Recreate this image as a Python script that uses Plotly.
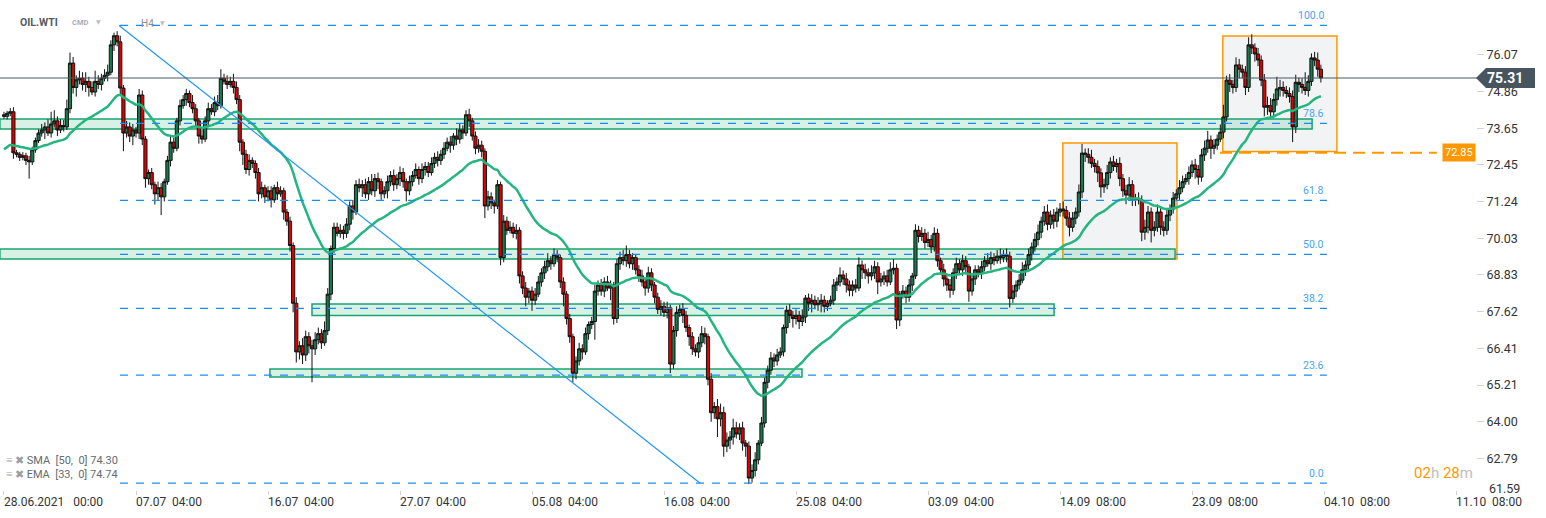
import plotly.graph_objects as go

# ---------------- data ----------------
first_open = 74.10
closes = [
    74.05, 74.15, 74.2, 72.85, 72.8, 72.7, 72.75, 72.6, 72.55, 72.95,
    73.25, 73.5, 73.6, 73.7, 73.5, 73.8, 73.9, 73.6, 73.75, 73.7,
    74.3, 75.8, 75.0, 75.25, 75.3, 75.1, 75.2, 75.0, 74.85, 75.2,
    75.1, 75.3, 75.4, 75.5, 76.4, 76.7, 76.5, 74.98, 73.5, 73.7,
    73.4, 73.6, 73.5, 74.75, 73.3, 72.0, 72.2, 71.8, 71.5, 71.7,
    71.4, 71.9, 72.6, 73.2, 73.0, 73.9, 74.4, 74.6, 74.8, 74.5,
    74.3, 73.9, 73.4, 73.3, 73.9, 74.3, 74.2, 74.5, 74.4, 75.3,
    75.2, 75.1, 75.2, 75.0, 74.6, 73.2, 72.8, 72.3, 72.6, 72.5,
    72.2, 71.5, 71.7, 71.4, 71.6, 71.3, 71.7, 71.5, 71.6, 70.9,
    70.6, 69.8, 67.9, 66.3, 66.5, 66.2, 66.8, 66.5, 66.4, 66.7,
    66.9, 66.6, 67.0, 68.2, 69.7, 70.4, 70.2, 70.3, 70.2, 70.5,
    71.1, 70.9, 71.8, 71.7, 71.8, 71.5, 71.9, 71.6, 72.0, 71.9,
    71.5, 71.6, 71.9, 72.1, 71.8, 72.0, 72.2, 71.9, 71.6, 71.9,
    72.1, 72.3, 72.0, 72.3, 72.4, 72.2, 72.5, 72.7, 72.6, 72.8,
    73.0, 73.2, 73.1, 73.4, 73.3, 73.6, 73.5, 74.1, 73.9, 73.4,
    73.0, 73.1, 72.9, 71.1, 71.4, 71.2, 71.1, 71.8, 69.4, 70.6,
    70.3, 70.4, 70.2, 70.3, 68.8, 68.4, 68.1, 68.3, 68.0, 68.2,
    68.6, 68.9, 69.1, 69.3, 69.2, 69.5, 69.4, 68.6, 68.2, 67.4,
    66.8, 65.6, 66.0, 66.4, 66.3, 66.9, 67.2, 67.3, 68.3, 68.5,
    68.3, 68.6, 68.4, 68.5, 67.4, 69.2, 69.4, 69.3, 69.5, 69.2,
    69.4, 69.0, 68.8, 68.6, 68.4, 68.9, 68.5, 68.1, 67.7, 67.8,
    67.6, 67.75, 65.9, 67.0, 67.6, 67.7, 67.5, 67.1, 66.8, 66.4,
    66.3, 66.6, 66.9, 66.8, 65.4, 64.3, 64.5, 64.1, 64.3, 63.2,
    63.4, 63.5, 63.8, 63.6, 63.8, 63.3, 63.2, 62.15, 62.4, 62.75,
    63.3, 63.96, 65.3, 65.7, 66.1, 66.0, 66.2, 66.3, 67.1, 67.67,
    67.5, 67.4, 67.5, 67.3, 67.45, 68.07, 67.9, 68.0, 67.85, 67.9,
    68.0, 67.8, 67.9, 68.0, 68.5, 68.6, 68.83, 68.7, 68.5, 68.33,
    68.5, 68.4, 69.16, 69.0, 68.9, 68.8, 68.9, 69.1, 68.6, 68.7,
    68.8, 68.6, 69.0, 69.05, 67.35, 68.2, 68.3, 68.1, 68.5, 68.8,
    70.3, 70.1, 70.2, 69.9, 70.0, 69.75, 70.2, 69.3, 69.0, 68.7,
    68.5, 68.33, 68.9, 69.2, 69.0, 69.3, 69.1, 68.3, 68.7, 69.0,
    68.9, 69.1, 69.3, 69.2, 69.4, 69.3, 69.45, 69.4, 69.5, 69.45,
    68.06, 68.3, 68.5, 68.66, 69.0, 69.16, 69.5, 69.75, 70.0, 70.24,
    70.6, 70.9, 70.5, 70.8, 70.6, 70.9, 71.0, 70.95, 70.7, 70.4,
    70.7, 70.9, 71.56, 72.84, 72.8, 72.7, 72.5, 72.4, 72.19, 71.73,
    71.8, 72.2, 72.55, 72.4, 72.5, 72.0, 71.6, 71.46, 71.8, 71.3,
    71.35, 71.3, 70.24, 70.4, 70.9, 70.3, 70.4, 70.9, 70.4, 70.3,
    70.8, 71.0, 71.36, 71.5, 71.7, 71.9, 72.0, 72.2, 72.45, 72.3,
    72.05, 72.78, 73.0, 73.27, 73.0, 73.1, 73.3, 73.53, 74.03, 75.24,
    75.1, 75.0, 75.74, 75.6, 75.5, 75.0, 76.4, 76.3, 76.1, 75.9,
    75.24, 74.35, 74.4, 74.2, 74.6, 74.95, 75.0, 74.9, 74.8, 74.7,
    73.7, 75.17, 75.1, 75.0, 74.9, 75.2, 75.97, 75.9, 75.6, 75.31,
]
# upper / lower wick lengths in cents
wick_up = [
    10, 8, 12, 15, 10, 8, 12, 10, 15, 10,
    10, 12, 20, 15, 25, 40, 35, 15, 20, 18,
    30, 35, 20, 15, 25, 20, 30, 15, 20, 35,
    20, 15, 20, 25, 15, 10, 15, 20, 10, 20,
    15, 20, 10, 20, 15, 10, 10, 15, 10, 20,
    15, 10, 15, 20, 15, 10, 20, 15, 15, 10,
    25, 15, 10, 20, 15, 20, 15, 20, 25, 30,
    15, 20, 15, 25, 20, 15, 10, 15, 20, 10,
    10, 15, 20, 10, 15, 15, 10, 20, 15, 10,
    10, 15, 10, 20, 15, 25, 20, 15, 20, 25,
    20, 15, 30, 20, 10, 15, 15, 20, 15, 20,
    15, 20, 15, 20, 15, 20, 15, 25, 15, 20,
    10, 15, 20, 15, 20, 15, 20, 15, 10, 20,
    15, 20, 10, 20, 15, 15, 20, 15, 20, 15,
    20, 15, 20, 10, 25, 20, 15, 15, 20, 10,
    15, 20, 15, 10, 20, 15, 10, 15, 10, 20,
    15, 20, 15, 20, 10, 15, 20, 10, 15, 20,
    20, 15, 20, 25, 15, 20, 15, 10, 15, 10,
    15, 10, 15, 20, 15, 20, 10, 15, 20, 15,
    20, 15, 20, 15, 10, 15, 20, 25, 30, 15,
    15, 10, 15, 20, 10, 20, 15, 10, 15, 20,
    15, 20, 10, 15, 20, 15, 20, 15, 10, 15,
    15, 20, 25, 20, 10, 20, 15, 25, 30, 20,
    25, 20, 30, 20, 15, 20, 10, 15, 20, 25,
    10, 20, 15, 15, 20, 15, 20, 15, 10, 15,
    20, 15, 20, 15, 25, 10, 15, 20, 15, 20,
    20, 15, 10, 15, 20, 15, 25, 15, 20, 15,
    15, 20, 25, 15, 20, 15, 25, 20, 15, 20,
    15, 20, 25, 30, 15, 10, 20, 15, 20, 10,
    20, 15, 20, 15, 25, 15, 20, 15, 10, 20,
    15, 20, 15, 20, 15, 20, 15, 10, 20, 15,
    15, 20, 15, 25, 20, 15, 20, 25, 15, 20,
    15, 20, 15, 20, 25, 15, 20, 15, 20, 25,
    15, 20, 25, 15, 20, 15, 20, 25, 15, 20,
    20, 15, 25, 30, 15, 20, 25, 15, 20, 15,
    20, 25, 15, 20, 15, 20, 15, 20, 25, 15,
    15, 20, 15, 25, 20, 15, 20, 25, 15, 20,
    20, 15, 20, 15, 25, 20, 15, 20, 15, 20,
    15, 20, 25, 30, 15, 20, 15, 25, 40, 15,
    20, 15, 25, 20, 15, 20, 25, 35, 15, 20,
    15, 20, 30, 25, 20, 40, 25, 20, 15, 20,
    20, 25, 15, 20, 50, 20, 15, 20, 25, 15,
]
wick_dn = [
    8, 10, 10, 20, 10, 12, 10, 15, 55, 10,
    10, 8, 12, 30, 10, 15, 12, 20, 10, 15,
    10, 15, 20, 30, 15, 20, 25, 30, 10, 15,
    15, 20, 10, 20, 10, 20, 15, 20, 60, 15,
    20, 30, 15, 20, 20, 30, 20, 15, 35, 20,
    60, 15, 10, 20, 15, 10, 15, 10, 20, 15,
    15, 20, 25, 15, 10, 20, 10, 15, 15, 10,
    10, 15, 10, 20, 15, 30, 35, 15, 20, 15,
    20, 25, 15, 20, 15, 25, 10, 20, 10, 25,
    15, 20, 30, 35, 25, 30, 20, 25, 110, 20,
    15, 20, 10, 15, 20, 15, 10, 15, 20, 15,
    20, 25, 10, 15, 30, 15, 20, 15, 20, 25,
    20, 15, 25, 15, 20, 15, 25, 20, 35, 15,
    15, 10, 20, 15, 20, 15, 10, 15, 20, 15,
    15, 10, 25, 15, 20, 15, 20, 10, 20, 15,
    20, 15, 20, 40, 15, 20, 25, 10, 25, 15,
    15, 10, 15, 20, 25, 20, 30, 20, 35, 15,
    10, 15, 20, 15, 20, 10, 15, 20, 40, 20,
    20, 30, 20, 15, 25, 10, 20, 15, 60, 15,
    15, 20, 10, 40, 20, 15, 20, 15, 20, 15,
    20, 15, 20, 15, 25, 15, 20, 20, 15, 20,
    15, 20, 30, 15, 20, 15, 25, 15, 30, 20,
    15, 20, 15, 25, 20, 30, 20, 60, 25, 35,
    20, 30, 25, 15, 20, 25, 35, 20, 15, 20,
    15, 10, 15, 20, 15, 20, 15, 10, 15, 20,
    25, 30, 20, 25, 15, 20, 25, 30, 15, 20,
    30, 20, 15, 10, 15, 20, 15, 20, 25, 20,
    20, 15, 10, 30, 20, 25, 15, 20, 40, 15,
    20, 15, 10, 15, 30, 20, 15, 20, 15, 20,
    10, 20, 15, 20, 15, 20, 15, 20, 15, 25,
    20, 25, 15, 20, 15, 20, 25, 35, 15, 20,
    15, 20, 15, 10, 20, 15, 10, 20, 15, 20,
    30, 15, 20, 15, 10, 20, 15, 20, 15, 20,
    20, 15, 20, 15, 25, 20, 15, 20, 25, 30,
    15, 20, 15, 20, 25, 20, 15, 20, 30, 35,
    20, 15, 20, 15, 20, 25, 20, 30, 15, 20,
    20, 15, 30, 25, 20, 40, 20, 15, 25, 20,
    15, 20, 15, 10, 20, 15, 10, 20, 15, 30,
    25, 15, 20, 15, 35, 20, 15, 10, 20, 15,
    25, 20, 15, 30, 20, 25, 15, 20, 25, 20,
    20, 30, 25, 20, 15, 20, 25, 20, 15, 20,
    50, 20, 25, 20, 15, 20, 15, 20, 25, 15,
]
ema_seed = 72.90          # EMA value just before the first bar
ema_period = 33
sma_label = "SMA  [50,  0] 74.30"
ema_label = "EMA  [33,  0] 74.74"

x_tick_bars = [0, 42, 84, 126, 168, 210, 252, 294, 336, 378, 420, 462]
x_tick_text = ["28.06.2021\u00a0\u00a0\u00a000:00", "07.07\u00a0\u00a004:00", "16.07\u00a0\u00a004:00",
               "27.07\u00a0\u00a004:00", "05.08\u00a0\u00a004:00", "16.08\u00a0\u00a004:00",
               "25.08\u00a0\u00a004:00", "03.09\u00a0\u00a004:00", "14.09\u00a0\u00a008:00",
               "23.09\u00a0\u00a008:00", "04.10\u00a0\u00a008:00", "11.10\u00a0\u00a008:00"]
y_tick_vals = [76.07, 74.86, 73.65, 72.45, 71.24, 70.03, 68.83, 67.62, 66.41, 65.21, 64.00, 62.79]
y_bottom_label = 61.59

fib_low, fib_high = 61.98, 77.04
fib_ratios = [0.0, 23.6, 38.2, 50.0, 61.8, 78.6, 100.0]
pending_level = 72.85

# ---------------- build ----------------
n = len(closes)
xs = list(range(n))
opens = [first_open] + closes[:-1]
highs = [max(o, c) + u / 100 for o, c, u in zip(opens, closes, wick_up)]
lows = [min(o, c) - d / 100 for o, c, d in zip(opens, closes, wick_dn)]

alpha = 2 / (ema_period + 1)
ema = []
prev = ema_seed
for c in closes:
    prev = prev + alpha * (c - prev)
    ema.append(prev)

FIB_BLUE = "#1a8cf0"
GREEN_LINE = "#1aa36e"
ORANGE = "#ff9800"

fig = go.Figure()
fig.add_trace(go.Candlestick(
    x=xs, open=opens, high=highs, low=lows, close=closes,
    increasing=dict(line=dict(color="#111111", width=1), fillcolor="#157a50"),
    decreasing=dict(line=dict(color="#111111", width=1), fillcolor="#e00000"),
    whiskerwidth=0, showlegend=False, hoverinfo="skip"))
fig.add_trace(go.Scatter(x=xs, y=ema, mode="lines",
                         line=dict(color="#24b67e", width=2.5, shape="spline"),
                         showlegend=False, hoverinfo="skip"))

shapes = []
# gray consolidation boxes with orange border
for (x0, x1, y0, y1) in [(336.9, 373.2, 69.356, 73.172), (387.8, 424.1, 72.89, 76.69)]:
    shapes.append(dict(type="rect", xref="x", yref="y", x0=x0, x1=x1, y0=y0, y1=y1,
                       fillcolor="rgba(225,228,233,0.45)", line=dict(color=ORANGE, width=1.5),
                       layer="below"))
# green support / resistance zones
for (x0, x1, y0, y1) in [(-1.3, 416.2, 73.632, 73.961), (-1.3, 372.6, 69.356, 69.685),
                         (98.0, 334.1, 67.498, 67.876), (84.6, 253.9, 65.475, 65.738)]:
    shapes.append(dict(type="rect", xref="x", yref="y", x0=x0, x1=x1, y0=y0, y1=y1,
                       fillcolor="rgba(40,180,120,0.18)", line=dict(color=GREEN_LINE, width=1.5),
                       layer="below"))
# fibonacci levels
fib_x0, fib_x1 = 36.9, 420.9
annotations = []
for r in fib_ratios:
    lvl = fib_low + r / 100 * (fib_high - fib_low)
    shapes.append(dict(type="line", xref="x", yref="y", x0=fib_x0, x1=fib_x1, y0=lvl, y1=lvl,
                       line=dict(color=FIB_BLUE, width=1.3, dash="8px,8px")))
    annotations.append(dict(xref="x", yref="y", x=fib_x1 - 0.3, y=lvl, text=f"{r:.1f}",
                            xanchor="right", yanchor="bottom", showarrow=False, yshift=1,
                            font=dict(size=10.5, color="#4aa3f0", family="Roboto")))
# trend line from swing high to the fibonacci low
shapes.append(dict(type="line", xref="x", yref="y", x0=36.6, y0=fib_high, x1=221.5, y1=fib_low,
                   line=dict(color="#2196f3", width=1.2)))
# pending order level
shapes.append(dict(type="line", xref="x", yref="y", x0=386.9, x1=455.9, y0=pending_level, y1=pending_level,
                   line=dict(color=ORANGE, width=2, dash="12px,7px")))
# last price line
last = closes[-1]
shapes.append(dict(type="line", xref="paper", yref="y", x0=0, x1=1.002, y0=last, y1=last,
                   line=dict(color="#4a5860", width=1)))
shapes.append(dict(type="path", xref="paper", yref="y", xsizemode="pixel", ysizemode="pixel",
                   xanchor=1, yanchor=last, path="M 0,0 L 10,10 L 59,10 L 59,-10 L 10,-10 Z",
                   fillcolor="#47555e", line=dict(width=0)))

annotations.append(dict(xref="paper", yref="y", x=1, y=last, xanchor="left", xshift=9,
                        text="<b>75.31</b>", showarrow=False,
                        font=dict(size=14, color="white", family="Roboto")))
annotations.append(dict(xref="x", yref="y", x=457.5, y=pending_level, xanchor="left",
                        text="72.85", showarrow=False, bgcolor=ORANGE, borderpad=2,
                        font=dict(size=11, color="white", family="Roboto")))
annotations.append(dict(xref="paper", yref="y", x=1, y=61.82, xanchor="left", xshift=11,
                        text=f"{y_bottom_label:.2f}", showarrow=False,
                        font=dict(size=12.5, color="#333333", family="Roboto")))
# x labels (left aligned at their ticks)
for b, t in zip(x_tick_bars, x_tick_text):
    annotations.append(dict(xref="x", yref="paper", x=b, y=0, xanchor="left", yanchor="top",
                            yshift=-3, xshift=-2, text=t, showarrow=False,
                            font=dict(size=12, color="#333333", family="Roboto")))
# header
annotations += [
    dict(xref="paper", yref="paper", x=0, y=1, xshift=18, yshift=-22, xanchor="left", yanchor="middle",
         text="<b>OIL.WTI</b>", showarrow=False, font=dict(size=10.5, color="#555b61", family="Roboto")),
    dict(xref="paper", yref="paper", x=0, y=1, xshift=70, yshift=-22, xanchor="left", yanchor="middle",
         text="<b>CMD</b>", showarrow=False, font=dict(size=7.5, color="#a9adb3", family="Roboto")),
    dict(xref="paper", yref="paper", x=0, y=1, xshift=94, yshift=-21, xanchor="left", yanchor="middle",
         text="▼", showarrow=False, font=dict(size=6, color="#b9bdc2", family="DejaVu Sans")),
    dict(xref="paper", yref="paper", x=0, y=1, xshift=139, yshift=-23, xanchor="left", yanchor="middle",
         text="H4", showarrow=False, font=dict(size=10, color="#8a8f95", family="Roboto")),
    dict(xref="paper", yref="paper", x=0, y=1, xshift=158, yshift=-22, xanchor="left", yanchor="middle",
         text="▼", showarrow=False, font=dict(size=6, color="#b9bdc2", family="DejaVu Sans")),
]
# indicator legend
for k, lab in enumerate([sma_label, ema_label]):
    annotations.append(dict(xref="paper", yref="paper", x=0, y=0, xshift=4, yshift=30 - 14 * k,
                            xanchor="left", yanchor="middle", showarrow=False,
                            text=f"<span style='color:#9a9ea3'>≡ ✖</span> {lab}",
                            font=dict(size=11, color="#666b70", family="Roboto")))
# countdown
annotations.append(dict(xref="paper", yref="paper", x=1, y=0, xshift=-1, yshift=17,
                        xanchor="right", yanchor="middle", showarrow=False,
                        text="<span style='color:#ff9800'>02</span><span style='color:#c0c0c0'>h</span> "
                             "<span style='color:#ff9800'>28</span><span style='color:#c0c0c0'>m</span>",
                        font=dict(size=15, family="Roboto")))

fig.update_layout(
    width=1546, height=518, margin=dict(l=0, r=70, t=0, b=28),
    paper_bgcolor="white", plot_bgcolor="white",
    font=dict(family="Roboto", size=13, color="#333333"),
    shapes=shapes, annotations=annotations, showlegend=False,
    boxgap=0.0, boxgroupgap=0.0,
    xaxis=dict(range=[-1.27, 468.35], tickvals=x_tick_bars, ticktext=[""] * len(x_tick_bars),
               ticks="outside", ticklen=4, tickcolor="#d0d0d0", showgrid=False, zeroline=False,
               showline=False, rangeslider=dict(visible=False), fixedrange=True),
    yaxis=dict(range=[61.757, 77.876], side="right", tickvals=y_tick_vals,
               ticktext=[f"{v:.2f}" for v in y_tick_vals], ticks="outside", ticklen=7,
               tickcolor="#cfd3d6", showgrid=False, zeroline=False, showline=False,
               tickfont=dict(size=12.5, color="#333333", family="Roboto"), fixedrange=True),
)
fig.write_html("out.html", config={"displayModeBar": False},
               post_script="document.body.style.margin='0';document.body.style.overflow='hidden';")
